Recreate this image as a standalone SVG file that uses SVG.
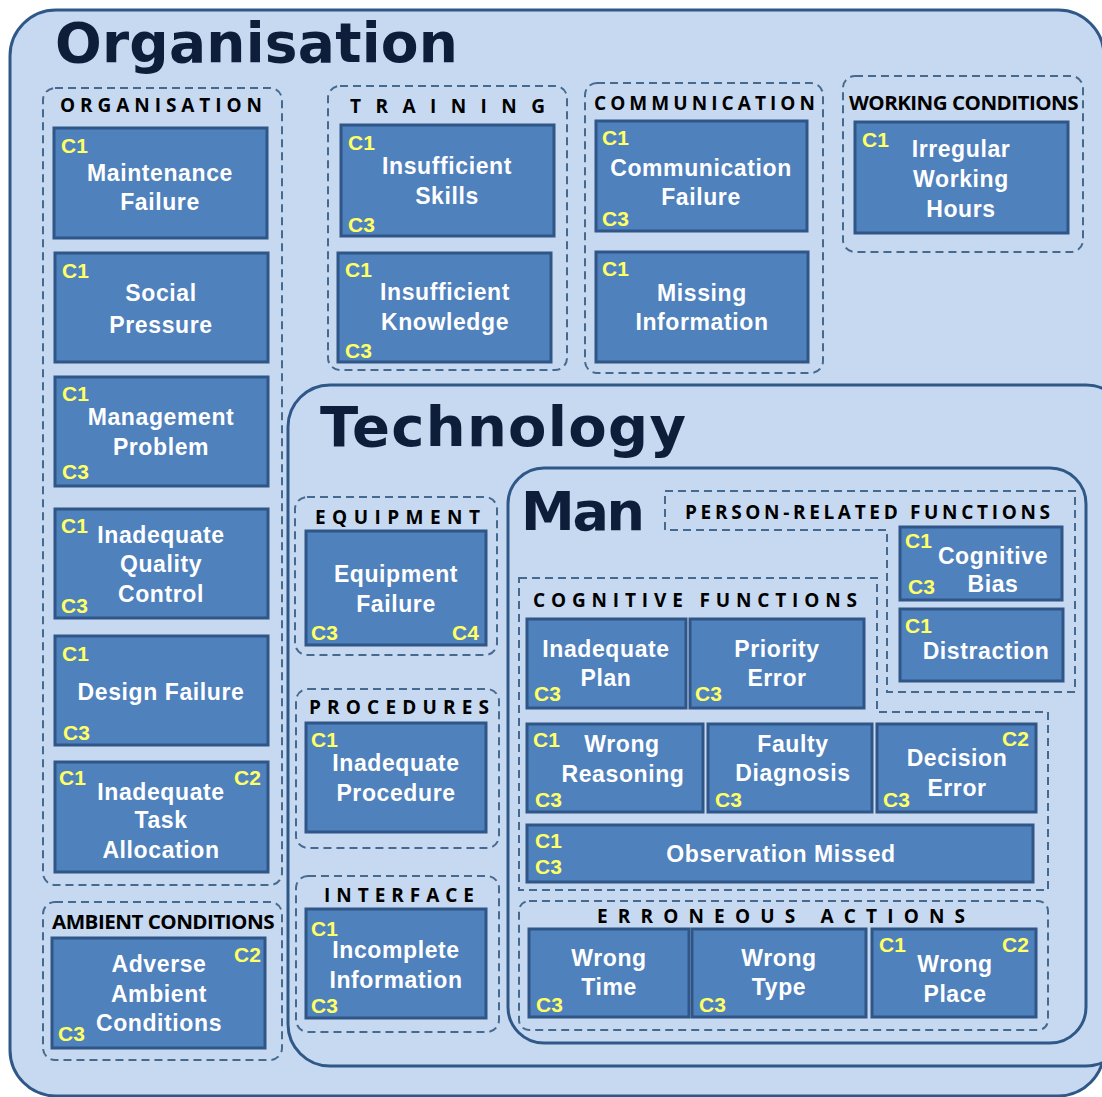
<svg xmlns="http://www.w3.org/2000/svg" width="1102" height="1097" viewBox="0 0 1102 1097">
<style>
.big{fill:#c6d9f1;stroke:#2f5888;stroke-width:3}
.grp{fill:none;stroke:#46698f;stroke-width:2;stroke-dasharray:8 5}
.box{fill:#4f81bd;stroke:#2f5686;stroke-width:3}
.title{font-family:"DejaVu Sans",Verdana,sans-serif;font-weight:bold;fill:#0e1e3a}
.gl{font-family:"Open Sans","Liberation Sans",Arial,sans-serif;font-weight:bold;font-size:19px;fill:#000}
.t{font-family:"Liberation Sans",Arial,sans-serif;font-weight:bold;font-size:23px;fill:#fff;text-anchor:middle;letter-spacing:0.6px}
.c{font-family:"Liberation Sans",Arial,sans-serif;font-weight:bold;font-size:21px;fill:#ffff66}
</style>
<rect width="1102" height="1097" fill="#ffffff"/>
<g id="organisation-area">
<rect class="big" x="10" y="10" width="1094" height="1086" rx="46"/>
<text class="title" x="55" y="62" font-size="55" textLength="403">Organisation</text>
</g>
<g id="technology-area">
<rect class="big" x="288" y="385" width="840" height="681" rx="42"/>
<text class="title" x="320" y="446" font-size="56" textLength="366">Technology</text>
</g>
<g id="man-area">
<rect class="big" x="508" y="468" width="578" height="575" rx="36"/>
<text class="title" x="521" y="530" font-size="54" textLength="124">Man</text>
</g>

<g id="grp-organisation">
<rect class="grp" x="43" y="88" width="239" height="797" rx="12"/>
<text class="gl" x="60" y="112" textLength="202">ORGANISATION</text>
</g>
<g id="n-maintenance"><rect class="box" x="54" y="128" width="213" height="110"/>
<text class="c" x="61" y="153">C1</text>
<text class="t" x="160" y="181">Maintenance</text><text class="t" x="160" y="210">Failure</text></g>
<g id="n-social"><rect class="box" x="55" y="253" width="213" height="109"/>
<text class="c" x="62" y="278">C1</text>
<text class="t" x="161" y="301">Social</text><text class="t" x="161" y="333">Pressure</text></g>
<g id="n-management"><rect class="box" x="55" y="377" width="213" height="109"/>
<text class="c" x="62" y="401">C1</text><text class="c" x="62" y="479">C3</text>
<text class="t" x="161" y="425">Management</text><text class="t" x="161" y="455">Problem</text></g>
<g id="n-quality"><rect class="box" x="55" y="509" width="213" height="109"/>
<text class="c" x="61" y="533">C1</text><text class="c" x="61" y="613">C3</text>
<text class="t" x="161" y="543">Inadequate</text><text class="t" x="161" y="572">Quality</text><text class="t" x="161" y="602">Control</text></g>
<g id="n-design"><rect class="box" x="55" y="636" width="213" height="109"/>
<text class="c" x="62" y="661">C1</text><text class="c" x="63" y="740">C3</text>
<text class="t" x="161" y="700">Design Failure</text></g>
<g id="n-task"><rect class="box" x="55" y="762" width="213" height="110"/>
<text class="c" x="59" y="785">C1</text><text class="c" x="234" y="785">C2</text>
<text class="t" x="161" y="800">Inadequate</text><text class="t" x="161" y="828">Task</text><text class="t" x="161" y="858">Allocation</text></g>

<g id="grp-ambient">
<rect class="grp" x="43" y="902" width="239" height="158" rx="12"/>
<text class="gl" x="52" y="929" textLength="222" lengthAdjust="spacingAndGlyphs" letter-spacing="-0.5">AMBIENT CONDITIONS</text>
</g>
<g id="n-ambient"><rect class="box" x="52" y="938" width="213" height="110"/>
<text class="c" x="234" y="962">C2</text><text class="c" x="58" y="1041">C3</text>
<text class="t" x="159" y="972">Adverse</text><text class="t" x="159" y="1002">Ambient</text><text class="t" x="159" y="1031">Conditions</text></g>

<g id="grp-training">
<rect class="grp" x="328" y="86" width="239" height="284" rx="12"/>
<text class="gl" x="350" y="113" textLength="195">TRAINING</text>
</g>
<g id="n-skills"><rect class="box" x="341" y="125" width="213" height="111"/>
<text class="c" x="348" y="150">C1</text><text class="c" x="348" y="232">C3</text>
<text class="t" x="447" y="174">Insufficient</text><text class="t" x="447" y="204">Skills</text></g>
<g id="n-knowledge"><rect class="box" x="338" y="253" width="213" height="109"/>
<text class="c" x="345" y="277">C1</text><text class="c" x="345" y="358">C3</text>
<text class="t" x="445" y="300">Insufficient</text><text class="t" x="445" y="330">Knowledge</text></g>

<g id="grp-communication">
<rect class="grp" x="585" y="83" width="238" height="290" rx="12"/>
<text class="gl" x="594" y="110" textLength="221">COMMUNICATION</text>
</g>
<g id="n-commfail"><rect class="box" x="596" y="121" width="211" height="110"/>
<text class="c" x="602" y="145">C1</text><text class="c" x="602" y="226">C3</text>
<text class="t" x="701" y="176">Communication</text><text class="t" x="701" y="205">Failure</text></g>
<g id="n-missing"><rect class="box" x="596" y="252" width="212" height="110"/>
<text class="c" x="602" y="276">C1</text>
<text class="t" x="702" y="301">Missing</text><text class="t" x="702" y="330">Information</text></g>

<g id="grp-working">
<rect class="grp" x="843" y="76" width="240" height="176" rx="12"/>
<text class="gl" x="849" y="110" textLength="229" lengthAdjust="spacingAndGlyphs" letter-spacing="-0.5">WORKING CONDITIONS</text>
</g>
<g id="n-irregular"><rect class="box" x="855" y="122" width="213" height="111"/>
<text class="c" x="862" y="147">C1</text>
<text class="t" x="961" y="157">Irregular</text><text class="t" x="961" y="187">Working</text><text class="t" x="961" y="217">Hours</text></g>

<g id="grp-equipment">
<rect class="grp" x="295" y="497" width="202" height="158" rx="12"/>
<text class="gl" x="315" y="524" textLength="165">EQUIPMENT</text>
</g>
<g id="n-equipment"><rect class="box" x="306" y="531" width="180" height="114"/>
<text class="c" x="311" y="640">C3</text><text class="c" x="452" y="640">C4</text>
<text class="t" x="396" y="582">Equipment</text><text class="t" x="396" y="612">Failure</text></g>

<g id="grp-procedures">
<rect class="grp" x="296" y="689" width="203" height="159" rx="12"/>
<text class="gl" x="309" y="714" textLength="180">PROCEDURES</text>
</g>
<g id="n-procedure"><rect class="box" x="306" y="723" width="180" height="109"/>
<text class="c" x="311" y="747">C1</text>
<text class="t" x="396" y="771">Inadequate</text><text class="t" x="396" y="801">Procedure</text></g>

<g id="grp-interface">
<rect class="grp" x="296" y="876" width="203" height="156" rx="12"/>
<text class="gl" x="324" y="902" textLength="150">INTERFACE</text>
</g>
<g id="n-incomplete"><rect class="box" x="306" y="909" width="180" height="109"/>
<text class="c" x="311" y="936">C1</text><text class="c" x="311" y="1013">C3</text>
<text class="t" x="396" y="958">Incomplete</text><text class="t" x="396" y="988">Information</text></g>

<g id="grp-person">
<path class="grp" d="M665 491 H1075 V692 H887 V530 H665 Z"/>
<text class="gl" x="685" y="519" textLength="365">PERSON-RELATED FUNCTIONS</text>
</g>
<g id="n-bias"><rect class="box" x="900" y="527" width="162" height="73"/>
<text class="c" x="905" y="548">C1</text><text class="c" x="908" y="594">C3</text>
<text class="t" x="993" y="564">Cognitive</text><text class="t" x="993" y="592">Bias</text></g>
<g id="n-distraction"><rect class="box" x="900" y="609" width="163" height="72"/>
<text class="c" x="905" y="633">C1</text>
<text class="t" x="986" y="659">Distraction</text></g>

<g id="grp-cognitive">
<path class="grp" d="M519 578 H877 V712 H1048 V890 H519 Z"/>
<text class="gl" x="533" y="607" textLength="324">COGNITIVE FUNCTIONS</text>
</g>
<g id="n-plan"><rect class="box" x="527" y="619" width="159" height="89"/>
<text class="c" x="534" y="701">C3</text>
<text class="t" x="606" y="657">Inadequate</text><text class="t" x="606" y="686">Plan</text></g>
<g id="n-priority"><rect class="box" x="690" y="619" width="174" height="89"/>
<text class="c" x="695" y="701">C3</text>
<text class="t" x="777" y="657">Priority</text><text class="t" x="777" y="686">Error</text></g>
<g id="n-reasoning"><rect class="box" x="527" y="724" width="176" height="88"/>
<text class="c" x="533" y="747">C1</text><text class="c" x="535" y="807">C3</text>
<text class="t" x="622" y="752">Wrong</text><text class="t" x="623" y="782">Reasoning</text></g>
<g id="n-diagnosis"><rect class="box" x="708" y="724" width="164" height="88"/>
<text class="c" x="715" y="807">C3</text>
<text class="t" x="793" y="752">Faulty</text><text class="t" x="793" y="781">Diagnosis</text></g>
<g id="n-decision"><rect class="box" x="877" y="724" width="159" height="88"/>
<text class="c" x="1002" y="746">C2</text><text class="c" x="883" y="807">C3</text>
<text class="t" x="957" y="766">Decision</text><text class="t" x="957" y="796">Error</text></g>
<g id="n-observation"><rect class="box" x="527" y="825" width="506" height="57"/>
<text class="c" x="535" y="848">C1</text><text class="c" x="535" y="874">C3</text>
<text class="t" x="781" y="862">Observation Missed</text></g>

<g id="grp-erroneous">
<rect class="grp" x="519" y="901" width="529" height="129" rx="10"/>
<text class="gl" x="597" y="923" textLength="368">ERRONEOUS ACTIONS</text>
</g>
<g id="n-time"><rect class="box" x="529" y="929" width="160" height="88"/>
<text class="c" x="536" y="1012">C3</text>
<text class="t" x="609" y="966">Wrong</text><text class="t" x="609" y="995">Time</text></g>
<g id="n-type"><rect class="box" x="692" y="929" width="174" height="88"/>
<text class="c" x="699" y="1012">C3</text>
<text class="t" x="779" y="966">Wrong</text><text class="t" x="779" y="995">Type</text></g>
<g id="n-place"><rect class="box" x="872" y="929" width="164" height="88"/>
<text class="c" x="879" y="952">C1</text><text class="c" x="1002" y="952">C2</text>
<text class="t" x="955" y="972">Wrong</text><text class="t" x="955" y="1002">Place</text></g>
<g id="connectors"></g>
</svg>
